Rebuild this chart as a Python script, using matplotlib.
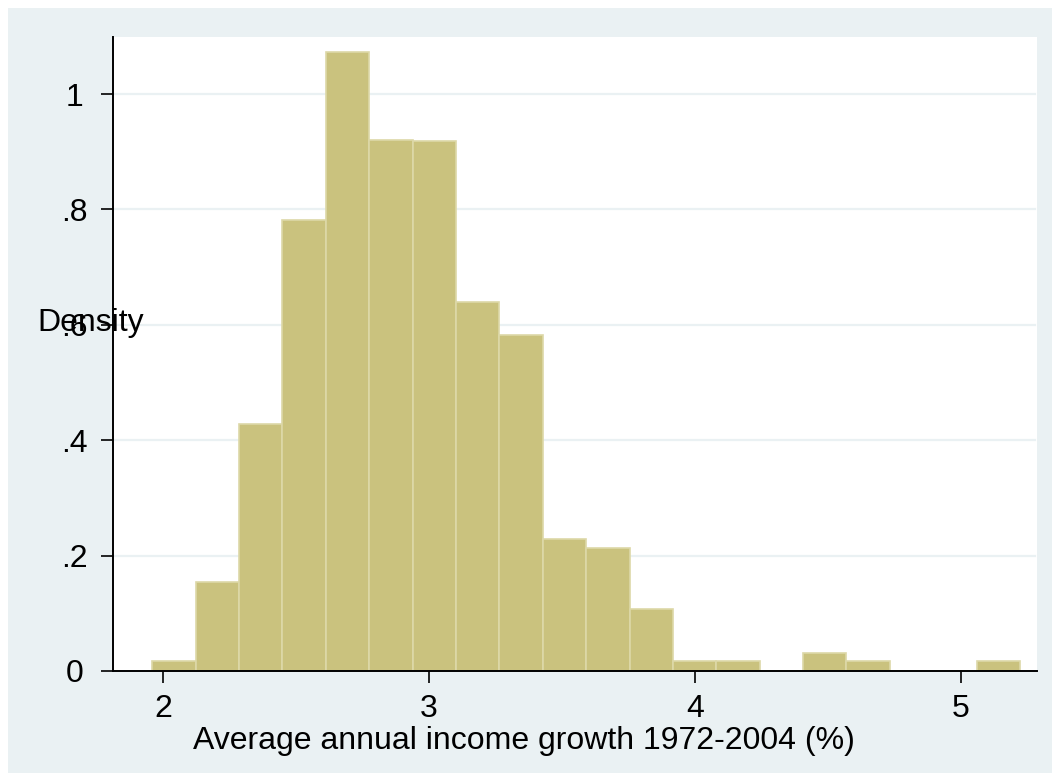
import matplotlib
matplotlib.use("Agg")
from matplotlib import pyplot as plt
from matplotlib.patches import Rectangle

# histogram data (density per bin)
bin_start = 1.959
bin_width = 0.1632
density = [0.017, 0.154, 0.428, 0.782, 1.073, 0.920, 0.919, 0.640, 0.582, 0.229,
           0.213, 0.108, 0.017, 0.017, 0.0, 0.031, 0.017, 0.0, 0.0, 0.017]
xticks = [2, 3, 4, 5]
yticks = [0, 0.2, 0.4, 0.6, 0.8, 1.0]
ytick_labels = ["0", ".2", ".4", ".6", ".8", "1"]

plt.rcParams["font.family"] = ["Liberation Sans", "DejaVu Sans"]

W, H = 1052, 773
fig = plt.figure(figsize=(W / 100, H / 100), dpi=100, facecolor="white")

# light graph region behind the plot
fig.patches.append(Rectangle((8 / W, 0), 1 - 8 / W, 1 - 8 / H, transform=fig.transFigure,
                             facecolor="#EAF1F3", edgecolor="none", zorder=-5))

ax = fig.add_axes([113 / W, 1 - 671 / H, (1037 - 113) / W, (671 - 37) / H])
ax.set_zorder(1)
ax.set_facecolor("white")

lefts = [bin_start + i * bin_width for i in range(len(density))]
ax.bar(lefts, density, width=bin_width, align="edge", color="#CAC27E",
       edgecolor="#DDD8A8", linewidth=1.2, zorder=2)

ax.set_xlim(1.811, 5.287)
ax.set_ylim(0, 1.099)

for y in yticks[1:]:
    ax.axhline(y, xmin=0, xmax=0.998, color="#EAF1F3", linewidth=1.6, zorder=1)

for s in ["top", "right"]:
    ax.spines[s].set_visible(False)
for s in ["left", "bottom"]:
    ax.spines[s].set_linewidth(1.4)
    ax.spines[s].set_zorder(3)

ax.set_xticks(xticks)
ax.set_xticklabels([str(t) for t in xticks])
ax.set_yticks(yticks)
ax.set_yticklabels(ytick_labels)
ax.tick_params(axis="both", direction="out", length=8.5, width=1.2, labelsize=23)
ax.tick_params(axis="x", pad=8)
ax.tick_params(axis="y", pad=19)
for lab in ax.get_yticklabels():
    lab.set_horizontalalignment("center")

fig.text(37 / W, 1 - 323 / H, "Density", fontsize=23, ha="left", va="center", zorder=5)
fig.text(523.5 / W, 1 - 741 / H, "Average annual income growth 1972-2004 (%)",
         fontsize=23, ha="center", va="center", zorder=5)

plt.savefig("out.png", dpi=100, facecolor=fig.get_facecolor())
plt.close()
